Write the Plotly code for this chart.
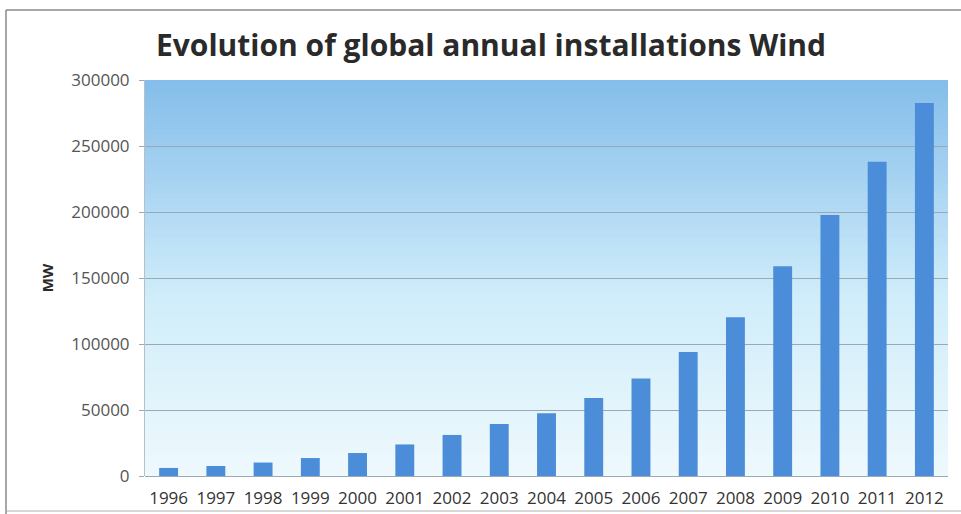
import plotly.graph_objects as go

years = ["1996", "1997", "1998", "1999", "2000", "2001", "2002", "2003", "2004",
         "2005", "2006", "2007", "2008", "2009", "2010", "2011", "2012"]
capacity_mw = [6100, 7600, 10200, 13600, 17400, 23900, 31100, 39400, 47600,
               59100, 73900, 93900, 120300, 158900, 197700, 238000, 282500]
y_ticks = [0, 50000, 100000, 150000, 200000, 250000, 300000]

W, H = 961, 514
L, R, T, B = 145, 13, 80, 38

fig = go.Figure()
fig.add_trace(go.Bar(
    x=years, y=capacity_mw,
    marker=dict(color="#4b8dd8", line=dict(width=0)),
    width=0.4,
    hoverinfo="x+y",
))

# gradient background in plot area
def lerp(a, b, t):
    return tuple(round(a[i] + (b[i] - a[i]) * t) for i in range(3))

stops = [(0.0, (238, 249, 253)), (0.45, (208, 237, 250)), (1.0, (132, 189, 234))]
def col(t):
    for i in range(len(stops) - 1):
        t0, c0 = stops[i]
        t1, c1 = stops[i + 1]
        if t0 <= t <= t1:
            return lerp(c0, c1, (t - t0) / (t1 - t0))
    return stops[-1][1]

shapes = []
n = 80
for i in range(n):
    y0 = i / n
    y1 = (i + 1) / n + 0.002
    c = col((i + 0.5) / n)
    shapes.append(dict(type="rect", xref="paper", yref="paper",
                       x0=0, x1=1, y0=y0, y1=min(y1, 1),
                       fillcolor="rgb(%d,%d,%d)" % c, line=dict(width=0),
                       layer="below"))

pw = W - L - R
ph = H - T - B
def px(x):
    return (x - L) / pw
def py(y):
    return (H - B - y) / ph
# outer frame lines
shapes.append(dict(type="line", xref="paper", yref="paper",
                   x0=px(6), x1=px(961), y0=py(10), y1=py(10),
                   line=dict(color="#8a8a8a", width=1.5)))
shapes.append(dict(type="line", xref="paper", yref="paper",
                   x0=px(6), x1=px(6), y0=py(10), y1=py(514),
                   line=dict(color="#8a8a8a", width=1.5)))
shapes.append(dict(type="line", xref="paper", yref="paper",
                   x0=px(6), x1=px(961), y0=py(511), y1=py(511),
                   line=dict(color="#b0b0b0", width=1)))

fig.update_layout(
    width=W, height=H,
    margin=dict(l=L, r=R, t=T, b=B, autoexpand=False),
    paper_bgcolor="white",
    plot_bgcolor="rgba(0,0,0,0)",
    shapes=shapes,
    showlegend=False,
    bargap=0.6,
    title=dict(text="<b>Evolution of global annual installations Wind</b>",
               xref="container", x=491 / W, xanchor="center",
               yref="container", y=1 - 45 / H, yanchor="middle",
               font=dict(family="Open Sans", size=30, color="#2a2a2a")),
    xaxis=dict(
        type="category",
        automargin=False,
        tickfont=dict(family="Open Sans", size=17, color="#333333"),
        showgrid=False, showline=False, ticks="", ticklen=0,
        ticklabelstandoff=10,
        fixedrange=True,
    ),
    yaxis=dict(
        range=[0, 300000],
        automargin=False,
        tickvals=y_ticks,
        ticktext=[str(v) for v in y_ticks],
        tickfont=dict(family="Open Sans", size=17, color="#555555"),
        showgrid=True, gridcolor="#9aa9b3", gridwidth=1,
        zeroline=True, zerolinecolor="#9aa9b3", zerolinewidth=1,
        showline=True, linecolor="#b5c0c8", linewidth=1,
        ticks="outside", ticklen=5, tickcolor="#9aa9b3",
        ticklabelstandoff=6,
        title=dict(text="<b>MW</b>", standoff=14,
                   font=dict(family="Open Sans", size=15, color="#2a2a2a")),
        fixedrange=True,
    ),
)

fig.write_html("out.html")
